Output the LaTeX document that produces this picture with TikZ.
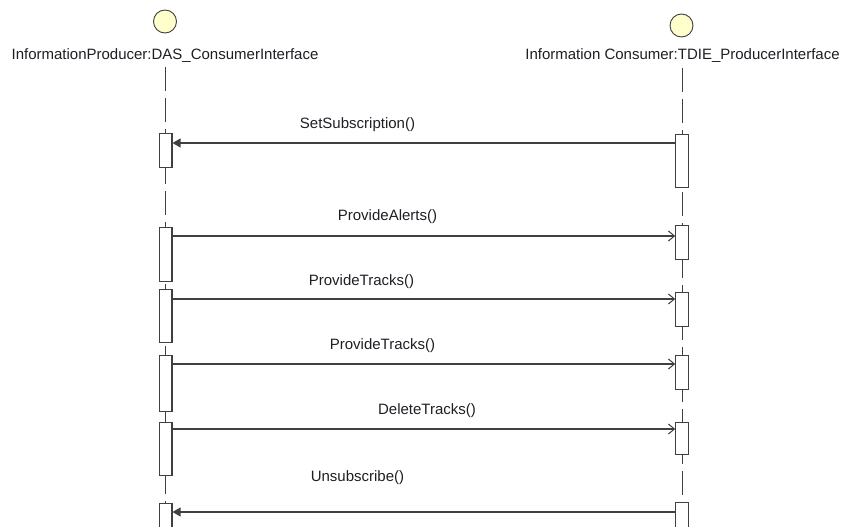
\documentclass[tikz,border=0pt]{standalone}
\usepackage{fontspec}
\setmainfont{Liberation Sans}
\usetikzlibrary{arrows.meta}
\definecolor{txt}{HTML}{1E1E24}
\definecolor{ln}{HTML}{404040}
\definecolor{head}{HTML}{FFFFCC}
\begin{document}
\begin{tikzpicture}[x=1pt,y=-1pt,
  lbl/.style={font=\fontsize{15}{18}\selectfont, text=txt, inner sep=0pt},
  actbox/.style={draw=ln, line width=1.1pt, fill=white, minimum width=12.5pt, inner sep=0pt, anchor=north},
  headc/.style={circle, draw=ln, line width=0.9pt, fill=head, minimum size=23pt, inner sep=0pt},
  life/.style={draw=ln, line width=1pt, dash pattern=on 24pt off 7pt},
  sync/.style={draw=ln, line width=1.2pt, -{Triangle[length=8pt,width=9pt]}},
  async/.style={draw=ln, line width=1.2pt, -{Straight Barb[length=6pt,width=10pt,line width=1pt]}}]
\useasboundingbox (0,0) rectangle (841,527);
% heads
\node[headc] (hP) at (165,21.5) {};
\node[headc] (hC) at (681.5,25.5) {};
\node[lbl] (tP) at (165,55.5) {InformationProducer:DAS\_ConsumerInterface};
\node[lbl] (tC) at (682.5,56) {Information Consumer:TDIE\_ProducerInterface};
\coordinate (endP) at (165.75,540);
\coordinate (endC) at (682,540);
\coordinate (stP) at (165.75,67);
\coordinate (stC) at (682,68);
\draw[life] (stP) -- (endP);
\draw[life] (stC) -- (endC);
% activation boxes
\node[actbox, minimum height=34pt] (L1) at (165.75,133) {};
\node[actbox, minimum height=54pt] (L2) at (165.75,227) {};
\node[actbox, minimum height=53pt] (L3) at (165.75,289) {};
\node[actbox, minimum height=56pt] (L4) at (165.75,355) {};
\node[actbox, minimum height=53pt] (L5) at (165.75,422) {};
\node[actbox, minimum height=40pt] (L6) at (165.75,503) {};
\node[actbox, minimum height=53pt] (R1) at (682,134) {};
\node[actbox, minimum height=34pt] (R2) at (682,225) {};
\node[actbox, minimum height=34pt] (R3) at (682,292) {};
\node[actbox, minimum height=34pt] (R4) at (682,355) {};
\node[actbox, minimum height=32pt] (R5) at (682,422) {};
\node[actbox, minimum height=40pt] (R6) at (682,502) {};
% message levels
\coordinate (m1) at (0,143);
\coordinate (m2) at (0,236);
\coordinate (m3) at (0,299);
\coordinate (m4) at (0,364);
\coordinate (m5) at (0,429);
\coordinate (m6) at (0,512);
\draw[sync] (R1.west |- m1) -- (L1.east |- m1);
\draw[async] (L2.east |- m2) -- (R2.west |- m2);
\draw[async] (L3.east |- m3) -- (R3.west |- m3);
\draw[async] (L4.east |- m4) -- (R4.west |- m4);
\draw[async] (L5.east |- m5) -- (R5.west |- m5);
\draw[sync] (R6.west |- m6) -- (L6.east |- m6);
% labels
\node[lbl] (a1) at (357.5,124.5) {SetSubscription()};
\node[lbl] (a2) at (387.5,216.5) {ProvideAlerts()};
\node[lbl] (a3) at (361.5,281.5) {ProvideTracks()};
\node[lbl] (a4) at (382.5,345.5) {ProvideTracks()};
\node[lbl] (a5) at (427,411) {DeleteTracks()};
\node[lbl] (a6) at (357.5,477.5) {Unsubscribe()};
\end{tikzpicture}
\end{document}
